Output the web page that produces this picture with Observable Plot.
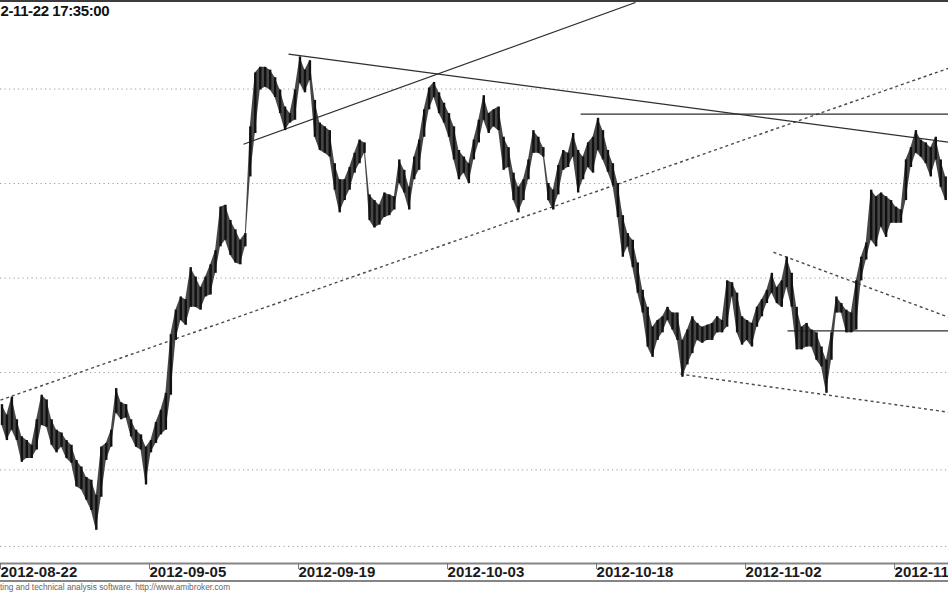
<!DOCTYPE html>
<html>
<head>
<meta charset="utf-8">
<script src="https://cdn.jsdelivr.net/npm/d3@7"></script>
<script src="https://cdn.jsdelivr.net/npm/@observablehq/plot@0.6"></script>
<style>
  html, body { margin: 0; padding: 0; background: #fff; }
  body { width: 948px; height: 593px; overflow: hidden; font-family: "Liberation Sans", Arial, sans-serif; }
  #chart { width: 948px; border-top: 2px solid #3c3c3c; border-bottom: 2px solid #858585; overflow: hidden; }
  #chart svg { display: block; }
  #footer { font-size: 8.3px; line-height: 10px; color: #666; white-space: nowrap; padding-left: 0; }
</style>
</head>
<body>
<div id="chart"></div>
<div id="footer">ting and technical analysis software. http://www.amibroker.com</div>
<script>
// ---- data ----
const titleText = "2-11-22 17:35:00";
const dateLabels = ["2012-08-22", "2012-09-05", "2012-09-19", "2012-10-03", "2012-10-18", "2012-11-02", "2012-11-16"];
const tickBars = [0, 30, 60, 90, 120, 150, 180];

const highs = [
  2166, 2155, 2174, 2150, 2132, 2128, 2123, 2150, 2176, 2171,
  2150, 2139, 2136, 2128, 2123, 2107, 2100, 2089, 2086, 2070,
  2121, 2125, 2139, 2183, 2168, 2166, 2150, 2139, 2134, 2121,
  2128, 2147, 2160, 2178, 2240, 2266, 2280, 2277, 2311, 2301,
  2290, 2301, 2314, 2329, 2375, 2377, 2361, 2351, 2340, 2347,
  2460, 2517, 2523, 2523, 2520, 2512, 2499, 2481, 2474, 2499,
  2534, 2520, 2530, 2488, 2464, 2460, 2456, 2421, 2404, 2404,
  2417, 2432, 2446, 2443, 2388, 2382, 2377, 2390, 2388, 2386,
  2425, 2414, 2396, 2428, 2446, 2478, 2501, 2507, 2496, 2485,
  2474, 2460, 2435, 2428, 2421, 2446, 2467, 2493, 2474, 2478,
  2481, 2449, 2438, 2411, 2396, 2404, 2425, 2456, 2449, 2438,
  2400, 2393, 2419, 2435, 2432, 2453, 2435, 2428, 2443, 2449,
  2469, 2456, 2435, 2421, 2400, 2366, 2347, 2340, 2316, 2287,
  2269, 2248, 2255, 2259, 2269, 2263, 2263, 2234, 2245, 2259,
  2252, 2248, 2250, 2252, 2259, 2255, 2297, 2295, 2284, 2259,
  2255, 2252, 2269, 2277, 2287, 2305, 2290, 2297, 2322, 2305,
  2269, 2248, 2252, 2245, 2242, 2227, 2213, 2242, 2280, 2273,
  2266, 2263, 2297, 2322, 2337, 2393, 2386, 2390, 2386, 2382,
  2375, 2372, 2425, 2438, 2456, 2446, 2443, 2438, 2449, 2425,
  2407
];
const lows = [
  2144, 2128, 2139, 2128, 2105, 2109, 2109, 2118, 2144, 2142,
  2123, 2115, 2121, 2109, 2104, 2079, 2076, 2065, 2054, 2033,
  2068, 2107, 2121, 2157, 2150, 2152, 2132, 2121, 2118, 2081,
  2115, 2125, 2134, 2139, 2176, 2234, 2255, 2250, 2269, 2269,
  2266, 2280, 2282, 2305, 2333, 2340, 2324, 2316, 2314, 2333,
  2407, 2453, 2499, 2502, 2499, 2491, 2474, 2456, 2464, 2467,
  2506, 2496, 2509, 2449, 2435, 2432, 2428, 2393, 2369, 2382,
  2393, 2411, 2421, 2432, 2361, 2353, 2356, 2364, 2366, 2372,
  2400, 2390, 2372, 2404, 2414, 2449, 2478, 2491, 2474, 2464,
  2449, 2425, 2404, 2411, 2400, 2425, 2443, 2467, 2453, 2460,
  2456, 2414, 2417, 2382, 2369, 2382, 2404, 2432, 2432, 2428,
  2382, 2372, 2388, 2414, 2417, 2428, 2390, 2404, 2417, 2411,
  2435, 2425, 2412, 2398, 2364, 2322, 2333, 2311, 2284, 2263,
  2227, 2216, 2234, 2242, 2255, 2245, 2234, 2195, 2208, 2220,
  2234, 2231, 2234, 2234, 2242, 2242, 2248, 2280, 2242, 2229,
  2234, 2227, 2248, 2259, 2273, 2284, 2273, 2269, 2290, 2269,
  2224, 2224, 2227, 2227, 2213, 2206, 2178, 2213, 2263, 2263,
  2242, 2242, 2245, 2297, 2319, 2340, 2333, 2354, 2343, 2358,
  2358, 2358, 2382, 2417, 2432, 2428, 2421, 2407, 2425, 2396,
  2382
];

const gridLevels = [2500, 2400, 2300, 2200, 2097, 2016];

// trend lines: [bar1, price1, bar2, price2]
const solidTrends = [
  [49.63, 2441.6, 128.55, 2591.6],
  [58.69, 2536.9, 191.56, 2443.8],
  [117.5, 2473.4, 191.56, 2473.4],
  [159.15, 2244.1, 191.56, 2244.1]
];
const dashedTrends = [
  [0.705, 2170.8, 191.56, 2522.0],
  [156.33, 2327.3, 191.56, 2258.6],
  [137.6, 2198.3, 191.56, 2158.0]
];

// ---- build ----
const bars = highs.map((h, i) => ({b: i + 1, hi: h, lo: lows[i]}));
const toLink = (t) => ({x1: t[0], y1: t[1], x2: t[2], y2: t[3]});
const yDomain = [1997.9, 2591.6];

const chart = Plot.plot({
  width: 948,
  height: 578,
  marginTop: 0,
  marginBottom: 17,
  marginLeft: 0,
  marginRight: 0,
  style: {fontFamily: "'Liberation Sans', Arial, sans-serif", background: "#fff", overflow: "visible"},
  x: {domain: [0.705, 191.56]},
  y: {domain: yDomain, axis: null},
  marks: [
    Plot.ruleY(gridLevels, {stroke: "#9a9a9a", strokeDasharray: "1.2,3.3", strokeWidth: 1}),
    Plot.link(dashedTrends.map(toLink), {x1: "x1", y1: "y1", x2: "x2", y2: "y2", stroke: "#4a4a4a", strokeWidth: 1.4, strokeDasharray: "3,3"}),
    Plot.link(solidTrends.map(toLink), {x1: "x1", y1: "y1", x2: "x2", y2: "y2", stroke: "#2e2e2e", strokeWidth: 1.2}),
    Plot.areaY(bars, {x: "b", y1: "lo", y2: "hi", fill: "#2c2c2c", fillOpacity: 0.88}),
    Plot.ruleX(bars, {x: "b", y1: "lo", y2: "hi", stroke: "#111", strokeWidth: 2.4}),
    Plot.ruleY([yDomain[0]], {stroke: "#858585", strokeWidth: 2}),
    Plot.axisX({
      ticks: tickBars,
      tickFormat: (d) => dateLabels[tickBars.indexOf(d)],
      tickSize: 6,
      tickPadding: -3,
      textAnchor: "start",
      dx: 3.5,
      fontSize: 15,
      fontWeight: "bold",
      stroke: "#777",
      color: "#222"
    }),
    Plot.text([titleText], {
      frameAnchor: "top-left",
      text: (d) => d,
      textAnchor: "start",
      lineAnchor: "top",
      dy: 3,
      fontSize: 15,
      fontWeight: "bold",
      fill: "#111"
    })
  ]
});
document.getElementById("chart").appendChild(chart);
d3.select(chart).selectAll('g[aria-label="text"] text').style("letter-spacing", "-0.4px");
d3.select(chart).selectAll('g[aria-label="x-axis tick label"] text').style("fill", "#1a1a1a");
</script>
</body>
</html>
